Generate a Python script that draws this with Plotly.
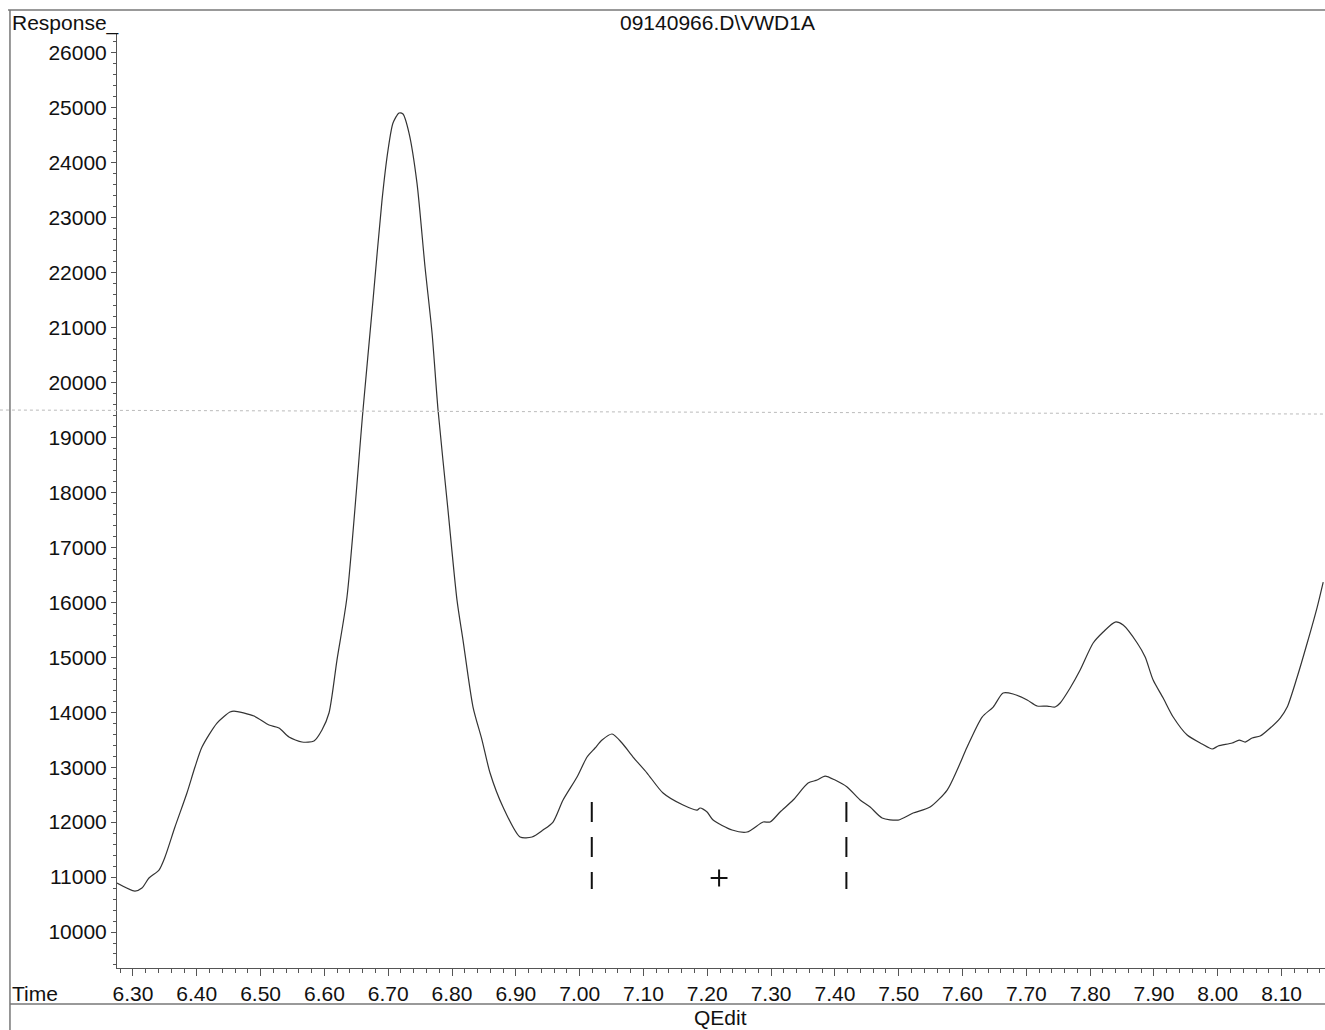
import plotly.graph_objects as go

# ---- data ----
time = [6.2749, 6.3031, 6.3141, 6.3251, 6.3408, 6.3502, 6.3658, 6.3846, 6.3972, 6.4082,
        6.4317, 6.4520, 6.4583, 6.4897, 6.5132, 6.5288, 6.5445, 6.5649, 6.5837, 6.5962,
        6.6072, 6.6197, 6.6354, 6.6605, 6.6762, 6.6903, 6.6997, 6.7075, 6.7169, 6.7232,
        6.7326, 6.7451, 6.7577, 6.7687, 6.7781, 6.7937, 6.8078, 6.8172, 6.8329, 6.8470,
        6.8596, 6.8799, 6.9066, 6.9254, 6.9426, 6.9583, 6.9740, 6.9959, 7.0116, 7.0241,
        7.0351, 7.0508, 7.0664, 7.0837, 7.1056, 7.1307, 7.1621, 7.1840, 7.1887, 7.1997,
        7.2091, 7.2389, 7.2624, 7.2875, 7.2984, 7.3141, 7.3345, 7.3580, 7.3721, 7.3846,
        7.4003, 7.4191, 7.4395, 7.4552, 7.4740, 7.4991, 7.5226, 7.5492, 7.5759, 7.5915,
        7.6072, 7.6307, 7.6480, 7.6636, 7.6793, 7.7013, 7.7169, 7.7326, 7.7451, 7.7530,
        7.7686, 7.7843, 7.8047, 7.8204, 7.8392, 7.8517, 7.8737, 7.8862, 7.8987, 7.9144,
        7.9301, 7.9520, 7.9755, 7.9912, 8.0006, 8.0225, 8.0335, 8.0429, 8.0539, 8.0664,
        8.0821, 8.0978, 8.1088, 8.1244, 8.1401, 8.1558, 8.1652]
response = [10892, 10746, 10801, 10983, 11128, 11365, 11911, 12530, 13003, 13367,
            13804, 14004, 14022, 13931, 13767, 13713, 13549, 13458, 13476, 13676,
            13986, 14950, 16097, 19500, 21502, 23322, 24232, 24724, 24906, 24888,
            24542, 23632, 22103, 20902, 19500, 17680, 16042, 15314, 14095, 13494,
            12894, 12275, 11729, 11729, 11856, 12002, 12402, 12821, 13185, 13349,
            13494, 13604, 13440, 13185, 12894, 12530, 12311, 12220, 12257, 12184,
            12038, 11856, 11820, 12002, 12002, 12184, 12402, 12712, 12766, 12839,
            12766, 12639, 12402, 12275, 12075, 12038, 12166, 12275, 12584, 12948,
            13367, 13913, 14095, 14350, 14332, 14222, 14113, 14113, 14095, 14168,
            14441, 14768, 15260, 15460, 15642, 15587, 15260, 15005, 14586, 14259,
            13913, 13585, 13422, 13331, 13385, 13440, 13494, 13458, 13531, 13567,
            13713, 13895, 14095, 14641, 15260, 15915, 16370]

# integration event markers
event_times = [7.019, 7.418]
event_top = 12366
event_bottom = 10783
plus_time = [7.2185]
plus_resp = [10983]

x_ticks = [6.30, 6.40, 6.50, 6.60, 6.70, 6.80, 6.90, 7.00, 7.10, 7.20,
           7.30, 7.40, 7.50, 7.60, 7.70, 7.80, 7.90, 8.00, 8.10]
y_ticks = list(range(10000, 27000, 1000))

FONT = "Liberation Sans, Arial, sans-serif"
INK = "#111111"
FRAME = "#555555"

fig = go.Figure()
fig.add_trace(go.Scatter(x=time, y=response, mode="lines",
                         line=dict(color="#333333", width=1.2, shape="spline", smoothing=0.7),
                         hoverinfo="skip"))
for et in event_times:
    fig.add_trace(go.Scatter(x=[et, et], y=[event_top, event_bottom], mode="lines",
                             line=dict(color="#111111", width=2, dash="20px,15px")))
fig.add_trace(go.Scatter(x=plus_time, y=plus_resp, mode="markers",
                         marker=dict(symbol="cross-thin", size=12,
                                     line=dict(color="#111111", width=2))))

fig.update_layout(
    width=1325, height=1030,
    margin=dict(l=117, r=0, t=34, b=62),
    paper_bgcolor="white", plot_bgcolor="white",
    showlegend=False,
    font=dict(family=FONT, size=21, color=INK),
)
fig.update_xaxes(
    range=[6.275, 8.168], tickvals=x_ticks, tickformat=".2f",
    showgrid=False, zeroline=False,
    showline=True, linecolor=FRAME, linewidth=1,
    ticks="outside", ticklen=7, tickcolor=FRAME, tickwidth=1,
    minor=dict(dtick=0.02, tick0=6.30, ticks="outside", ticklen=4,
               tickcolor=FRAME, tickwidth=1, showgrid=False),
    tickfont=dict(family=FONT, size=21, color=INK),
)
fig.update_yaxes(
    range=[9345, 26345], tickvals=y_ticks, tickformat="d",
    showgrid=False, zeroline=False,
    showline=True, linecolor=FRAME, linewidth=1,
    ticks="outside", ticklen=5, tickcolor=FRAME, tickwidth=1,
    minor=dict(dtick=200, tick0=10000, ticks="outside", ticklen=3,
               tickcolor=FRAME, tickwidth=1, showgrid=False),
    tickfont=dict(family=FONT, size=21, color=INK),
)

# outer frame lines and scan line
shapes = [
    dict(type="line", xref="paper", yref="paper", x0=-0.0902, x1=1.0, y0=1.0257, y1=1.0257,
         line=dict(color="#777777", width=1.5)),
    dict(type="line", xref="paper", yref="paper", x0=-0.0886, x1=-0.0886, y0=1.0257, y1=-0.07,
         line=dict(color="#777777", width=1.5)),
    dict(type="line", xref="paper", yref="paper", x0=-0.0886, x1=1.0, y0=-0.0385, y1=-0.0385,
         line=dict(color="#777777", width=1.5)),
    dict(type="line", xref="paper", yref="paper", x0=-0.0969, x1=1.0, y0=0.5974, y1=0.5931,
         line=dict(color="#bbbbbb", width=1, dash="dot")),
]
fig.update_layout(shapes=shapes)

ann = dict(xref="paper", yref="paper", showarrow=False, font=dict(family=FONT, size=21, color=INK))
fig.add_annotation(text="Response_", x=-0.0886, y=1.0118, xanchor="left", yanchor="middle", **ann)
fig.add_annotation(text="09140966.D\\VWD1A", x=0.4975, y=1.0118, xanchor="center", yanchor="middle", **ann)
fig.add_annotation(text="Time", x=-0.0886, y=-0.0268, xanchor="left", yanchor="middle", **ann)
fig.add_annotation(text="QEdit", x=0.4992, y=-0.0525, xanchor="center", yanchor="middle", **ann)

fig.write_html("out.html", config={"displayModeBar": False},
               post_script="document.body.style.margin='0';document.body.style.overflow='hidden';")
